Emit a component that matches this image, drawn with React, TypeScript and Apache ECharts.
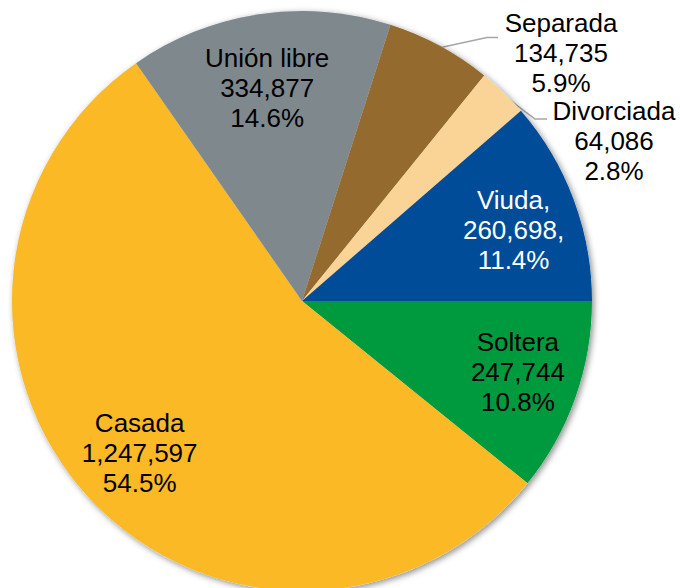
import React, { useEffect, useRef } from 'react';
import * as echarts from 'echarts';

const categories = ['Soltera', 'Casada', 'Unión libre', 'Separada', 'Divorciada', 'Viuda'];
const counts = [247744, 1247597, 334877, 134735, 64086, 260698];
const percents = [10.8, 54.5, 14.6, 5.9, 2.8, 11.4];
const colors = ['#009A3E', '#FBBA25', '#7F888D', '#946A2E', '#FAD496', '#004C99'];
const labelColors = ['#000', '#000', '#000', '#000', '#000', '#fff'];
const separators = ['', '', '', '', '', ','];
const outsideNames = ['Separada', 'Divorciada'];

const FONT = 'Arial, "Liberation Sans", sans-serif';

function fmt(i: number) {
  const s = separators[i];
  return `${categories[i]}${s}\n${counts[i].toLocaleString('en-US')}${s}\n${percents[i].toFixed(1)}%`;
}

export default function App() {
  const ref = useRef<HTMLDivElement>(null);
  useEffect(() => {
    if (!ref.current) return;
    const chart = echarts.init(ref.current, null, { renderer: 'svg' });
    const center = [302, 301];
    const R = 290;
    const mainData = categories.map((name, i) => {
      const outside = outsideNames.includes(name);
      return {
        name,
        value: counts[i],
        itemStyle: { color: colors[i] },
        label: {
          show: outside,
          position: 'outside',
          formatter: fmt(i),
          color: labelColors[i],
          fontFamily: FONT,
          fontSize: 26,
          lineHeight: 30,
        },
        labelLine: {
          show: outside,
          lineStyle: { color: '#A6A6A6', width: 1.5 },
        },
      };
    });
    const overlayData = categories.map((name, i) => {
      const outside = outsideNames.includes(name);
      return {
        name,
        value: counts[i],
        itemStyle: { color: 'rgba(0,0,0,0)' },
        label: {
          show: !outside,
          position: 'inside',
          formatter: fmt(i),
          color: labelColors[i],
          fontFamily: FONT,
          fontSize: 26,
          lineHeight: 30,
          align: 'center',
        },
      };
    });
    const insideShift: Record<string, [number, number]> = {
      Soltera: [8, -3],
      'Unión libre': [-2, 5],
      Viuda: [5, 6],
      Casada: [-1, 2],
    };
    chart.setOption({
      animation: false,
      backgroundColor: '#fff',
      series: [
        {
          type: 'pie',
          silent: true,
          center,
          radius: R,
          label: { show: false },
          labelLine: { show: false },
          itemStyle: {
            color: '#ddd',
            shadowBlur: 6,
            shadowOffsetX: 2,
            shadowOffsetY: 2,
            shadowColor: 'rgba(0,0,0,0.45)',
          },
          data: [{ value: 1, name: 'base' }],
        },
        {
          type: 'pie',
          silent: true,
          center,
          radius: R,
          startAngle: 0,
          clockwise: true,
          avoidLabelOverlap: false,
          data: mainData,
          labelLayout: (p: any) => {
            const name = categories[p.dataIndex];
            const pts = p.labelLinePoints;
            if (name === 'Separada') {
              const start = pts && pts[0] ? pts[0] : [440, 48];
              return {
                x: 561,
                y: 53,
                align: 'center',
                verticalAlign: 'middle',
                labelLinePoints: [[start[0], start[1] + 2], [487, 37.5], [498, 37.5]],
              };
            }
            if (name === 'Divorciada') {
              const start = pts && pts[0] ? pts[0] : [502, 94];
              return {
                x: 614,
                y: 141,
                align: 'center',
                verticalAlign: 'middle',
                labelLinePoints: [[start[0] - 1, start[1] + 2], [535, 119], [547, 119]],
              };
            }
            return {};
          },
        },
        {
          type: 'pie',
          silent: true,
          center,
          radius: [R / 2, R],
          startAngle: 0,
          clockwise: true,
          avoidLabelOverlap: false,
          labelLine: { show: false },
          data: overlayData,
          labelLayout: (p: any) => {
            const s = insideShift[categories[p.dataIndex]];
            return s ? { dx: s[0], dy: s[1] } : {};
          },
        },
      ],
    });
    return () => chart.dispose();
  }, []);
  return (
    <div
      ref={ref}
      style={{ position: 'fixed', left: 0, top: 0, width: 680, height: 588 }}
    />
  );
}
